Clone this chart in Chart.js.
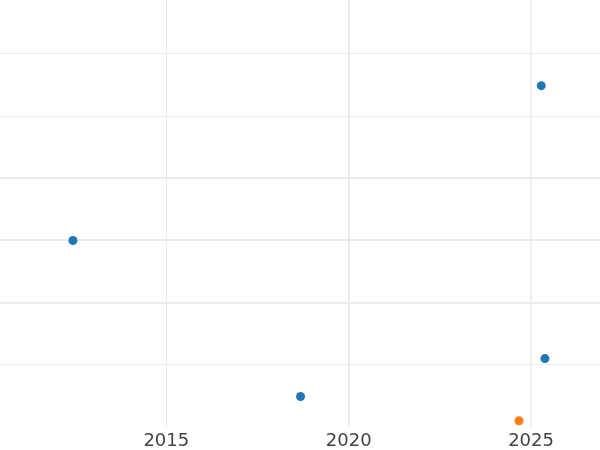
<!DOCTYPE html>
<html>
<head>
<meta charset="utf-8">
<script src="https://cdn.jsdelivr.net/npm/chart.js@4"></script>
<style>
html,body{margin:0;padding:0;background:#fff;}
#wrap{width:600px;height:450px;position:relative;}
</style>
</head>
<body>
<div id="wrap"><canvas id="c"></canvas></div>
<script>
const xTicks = [2015, 2020, 2025];
const yTicks = [1, 2, 3, 4, 5, 6];
const blueX = [2012.44, 2018.68, 2025.28, 2025.38];
const blueY = [3.0, 0.49, 5.49, 1.1];
const orangeX = [2024.67];
const orangeY = [0.1];

const xWidths = {2015: 1, 2020: 2, 2025: 1.6};
const yWidths = {1: 1, 2: 2, 3: 2, 4: 2, 5: 1, 6: 1};

const toPts = (xs, ys) => xs.map((x, i) => ({x: x, y: ys[i]}));

new Chart(document.getElementById('c'), {
  type: 'scatter',
  data: {
    datasets: [
      {data: toPts(blueX, blueY), backgroundColor: '#1f77b4', borderColor: '#1f77b4', pointRadius: 4.5, borderWidth: 0},
      {data: toPts(orangeX, orangeY), backgroundColor: '#ff7f0e', borderColor: '#ff7f0e', pointRadius: 4.5, borderWidth: 0}
    ]
  },
  options: {
    responsive: true,
    maintainAspectRatio: false,
    animation: false,
    layout: {padding: 0, autoPadding: false},
    plugins: {legend: {display: false}, tooltip: {enabled: false}},
    scales: {
      x: {
        type: 'linear',
        min: 2010.44,
        max: 2026.89,
        border: {display: false},
        afterBuildTicks: s => { s.ticks = xTicks.map(v => ({value: v})); },
        afterFit: s => { s.height = 23; },
        grid: {
          color: '#ebebeb',
          lineWidth: ctx => xWidths[ctx.tick ? ctx.tick.value : 0] || 1,
          drawTicks: false
        },
        ticks: {
          color: '#444444',
          font: {family: 'DejaVu Sans', size: 18},
          padding: 4,
          maxRotation: 0,
          callback: v => String(v)
        }
      },
      y: {
        type: 'linear',
        min: 0,
        max: 6.868,
        border: {display: false},
        afterBuildTicks: s => { s.ticks = yTicks.map(v => ({value: v})); },
        afterFit: s => { s.width = 0; },
        grid: {
          color: '#ebebeb',
          lineWidth: ctx => yWidths[ctx.tick ? ctx.tick.value : 0] || 1,
          drawTicks: false
        },
        ticks: {display: false}
      }
    }
  }
});
</script>
</body>
</html>
